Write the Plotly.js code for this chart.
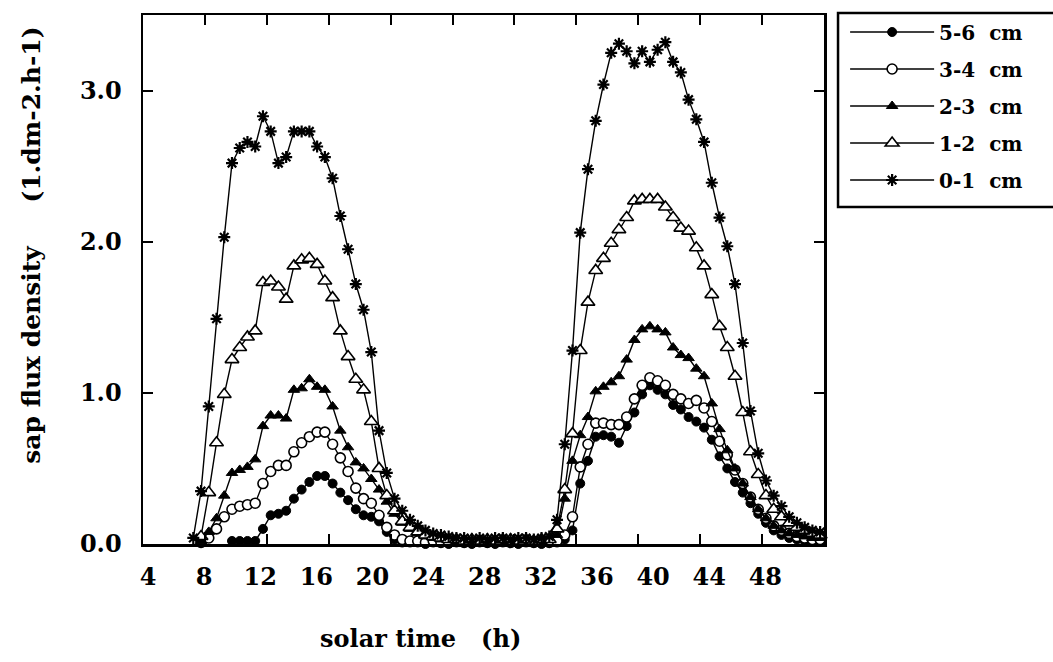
<!DOCTYPE html>
<html>
<head>
<meta charset="utf-8">
<script src="https://cdn.plot.ly/plotly-3.0.1.min.js"></script>
<style>html,body{margin:0;padding:0;background:#fff;}#chart{width:1053px;height:662px;}</style>
</head>
<body>
<div id="chart"></div>
<script>
// solar time (h), half-hourly readings
const hours = [7.25,7.75,8.25,8.75,9.25,9.75,10.25,10.75,11.25,11.75,
  12.25,12.75,13.25,13.75,14.25,14.75,15.25,15.75,16.25,16.75,
  17.25,17.75,18.25,18.75,19.25,19.75,20.25,20.75,21.25,21.75,
  22.25,22.75,23.25,23.75,24.25,24.75,25.25,25.75,26.25,26.75,
  27.25,27.75,28.25,28.75,29.25,29.75,30.25,30.75,31.25,31.75,
  32.25,32.75,33.25,33.75,34.25,34.75,35.25,35.75,36.25,36.75,
  37.25,37.75,38.25,38.75,39.25,39.75,40.25,40.75,41.25,41.75,
  42.25,42.75,43.25,43.75,44.25,44.75,45.25,45.75,46.25,46.75,
  47.25,47.75];

// sap flux density (l.dm-2.h-1) per depth
const depth56 = [null,null,null,null,null,0.02,0.02,0.02,0.02,0.10,
  0.19,0.20,0.22,0.30,0.36,0.41,0.45,0.45,0.40,0.34,
  0.29,0.23,0.19,0.18,0.15,0.08,0.03,0.01,0.01,0.01,
  0.00,0.01,0.01,0.00,0.01,0.01,0.00,0.01,0.01,0.00,
  0.01,0.01,0.00,0.01,0.01,0.00,0.01,0.01,0.03,0.09,
  0.40,0.55,0.71,0.72,0.71,0.67,0.78,0.87,0.99,1.05,
  1.02,0.99,0.92,0.89,0.84,0.81,0.77,0.69,0.58,0.50,
  0.41,0.34,0.27,0.20,0.14,0.09,0.06,0.04,0.03,0.02,
  0.02,0.02];

const depth34 = [null,0.01,0.04,0.10,0.18,0.23,0.25,0.26,0.27,0.40,
  0.48,0.52,0.52,0.61,0.67,0.71,0.74,0.74,0.66,0.57,
  0.48,0.37,0.30,0.27,0.19,0.11,0.06,0.03,0.02,0.02,
  0.01,0.02,0.01,0.01,0.02,0.01,0.01,0.02,0.01,0.01,
  0.02,0.01,0.01,0.02,0.01,0.01,0.01,0.02,0.06,0.18,
  0.51,0.66,0.80,0.80,0.79,0.79,0.84,0.96,1.05,1.10,
  1.08,1.05,0.99,0.96,0.93,0.95,0.90,0.81,0.68,0.59,
  0.49,0.40,0.31,0.23,0.17,0.12,0.09,0.07,0.05,0.04,
  0.03,0.03];

const depth23 = [null,0.02,0.08,0.17,0.32,0.47,0.49,0.51,0.56,0.78,
  0.85,0.85,0.83,1.02,1.03,1.09,1.04,1.02,0.91,0.75,
  0.64,0.54,0.50,0.43,0.36,0.28,0.20,0.14,0.10,0.07,
  0.05,0.04,0.03,0.03,0.02,0.03,0.02,0.02,0.03,0.02,
  0.02,0.03,0.02,0.02,0.03,0.02,0.03,0.06,0.30,0.55,
  0.72,0.84,1.01,1.04,1.07,1.11,1.22,1.35,1.42,1.44,
  1.42,1.40,1.30,1.25,1.23,1.16,1.11,0.93,0.76,0.62,
  0.50,0.40,0.31,0.23,0.17,0.12,0.09,0.07,0.06,0.05,
  0.04,0.04];

const depth12 = [null,0.05,0.34,0.67,0.99,1.22,1.30,1.37,1.41,1.73,
  1.74,1.70,1.62,1.84,1.88,1.89,1.85,1.74,1.63,1.41,
  1.24,1.09,1.02,0.81,0.50,0.32,0.22,0.15,0.11,0.08,
  0.06,0.05,0.04,0.03,0.03,0.02,0.03,0.02,0.03,0.02,
  0.03,0.03,0.02,0.03,0.02,0.03,0.03,0.10,0.36,0.73,
  1.28,1.60,1.81,1.89,1.99,2.08,2.16,2.27,2.28,2.28,
  2.28,2.23,2.16,2.09,2.07,1.96,1.84,1.65,1.44,1.30,
  1.11,0.87,0.61,0.46,0.32,0.23,0.18,0.14,0.11,0.09,
  0.07,0.06];

const depth01 = [0.04,0.35,0.91,1.49,2.03,2.52,2.62,2.66,2.63,2.83,
  2.73,2.52,2.56,2.73,2.73,2.73,2.63,2.56,2.42,2.17,
  1.95,1.72,1.55,1.27,0.75,0.47,0.30,0.22,0.16,0.12,
  0.09,0.07,0.06,0.05,0.04,0.04,0.03,0.04,0.03,0.04,
  0.04,0.03,0.04,0.04,0.03,0.04,0.05,0.16,0.66,1.28,
  2.06,2.48,2.80,3.04,3.25,3.31,3.26,3.18,3.26,3.19,
  3.27,3.32,3.19,3.12,2.94,2.81,2.66,2.39,2.16,1.97,
  1.72,1.33,0.88,0.60,0.42,0.32,0.25,0.18,0.14,0.11,
  0.09,0.08];

const seriesNames = ['5-6\u00a0\u00a0cm','3-4\u00a0\u00a0cm','2-3\u00a0\u00a0cm','1-2\u00a0\u00a0cm','0-1\u00a0\u00a0cm'];
const xTickValues = [4,8,12,16,20,24,28,32,36,40,44,48];
const xTickLabels = ['4','8','12','16','20','24','28','32','36','40','44','48'];
const yTickValues = [0,1,2,3];
const yTickLabels = ['0.0','1.0','2.0','3.0'];

const serif = 'DejaVu Serif, Liberation Serif, serif';
const lineStyle = {color:'black', width:1.4};

const markers = [
  {symbol:'circle', size:9, color:'black', line:{color:'black', width:1}},
  {symbol:'circle', size:10, color:'white', line:{color:'black', width:1.6}},
  {symbol:'triangle-up', size:10, color:'black', line:{color:'black', width:1}},
  {symbol:'triangle-up', size:12, color:'white', line:{color:'black', width:1.6}},
  {symbol:'asterisk-open', size:10, color:'black', line:{color:'black', width:2.2}}
];
const values = [depth56, depth34, depth23, depth12, depth01];

const traces = values.map((v, i) => ({
  type:'scatter', mode:'lines+markers', x:hours, y:v, name:seriesNames[i],
  legendgroup:'g'+i, line:lineStyle, marker:markers[i], connectgaps:false,
  cliponaxis:false
}));
// carrier for the printed tick-label row
traces.push({type:'scatter', x:[], y:[], xaxis:'x2', yaxis:'y', showlegend:false, hoverinfo:'skip'});

const tickFont = {family:serif, size:24, color:'black', weight:'bold'};

const layout = {
  width:1053, height:662,
  margin:{l:143, r:229, t:15, b:118, pad:0},
  paper_bgcolor:'white', plot_bgcolor:'white',
  showlegend:true,
  xaxis:{range:[4,48], tickvals:xTickValues, showticklabels:false,
    ticks:'inside', ticklen:10, tickwidth:2, tickcolor:'black',
    showline:true, linewidth:2.5, linecolor:'black', mirror:'ticks',
    showgrid:false, zeroline:false},
  xaxis2:{overlaying:'x', anchor:'y', side:'bottom', range:[3.644,52.18],
    tickvals:xTickValues, ticktext:xTickLabels, ticks:'', showline:false,
    showgrid:false, zeroline:false, tickfont:tickFont, ticklabelstandoff:16},
  yaxis:{range:[0,3.5], tickvals:yTickValues, ticktext:yTickLabels,
    ticks:'inside', ticklen:10, tickwidth:2, tickcolor:'black',
    showline:true, linewidth:2.5, linecolor:'black', mirror:'ticks',
    showgrid:false, zeroline:false, tickfont:tickFont, ticklabelstandoff:14},
  legend:{x:1.031, y:1.0047, xanchor:'left', yanchor:'top',
    bgcolor:'rgba(0,0,0,0)', borderwidth:0, traceorder:'grouped', tracegroupgap:8,
    itemwidth:84, font:{family:serif, size:20, color:'black', weight:'bold'}},
  shapes:[{type:'rect', xref:'paper', yref:'paper', x0:1.0206, x1:1.354, y0:0.637, y1:1.0038,
    line:{color:'black', width:2.5}, fillcolor:'rgba(0,0,0,0)'}],
  annotations:[
    {xref:'paper', yref:'paper', x:-0.165, y:0.565, xanchor:'center', yanchor:'middle',
     textangle:-90, showarrow:false,
     text:'sap flux density\u00a0\u00a0\u00a0\u00a0\u00a0(1.dm-2.h-1)',
     font:{family:serif, size:25, color:'black', weight:'bold'}},
    {xref:'paper', yref:'paper', x:0.408, y:-0.178, xanchor:'center', yanchor:'middle',
     showarrow:false, text:'solar time\u00a0\u00a0\u00a0(h)',
     font:{family:serif, size:24, color:'black', weight:'bold'}}
  ]
};

Plotly.newPlot('chart', traces, layout, {displayModeBar:false, staticPlot:true});
</script>
</body>
</html>
